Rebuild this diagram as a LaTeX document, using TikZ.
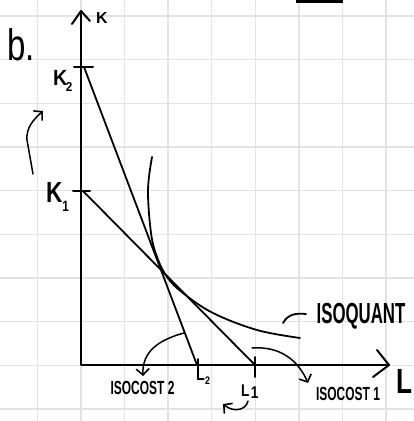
\documentclass[tikz,border=0pt]{standalone}
\usepackage{fontspec}
\setmainfont{Liberation Sans}
\usetikzlibrary{arrows.meta}
\begin{document}
\begin{tikzpicture}[x=1pt,y=-1pt,
  gridline/.style={draw=black!11, line width=1.3pt},
  axis/.style={line width=2pt, line cap=round, line join=round},
  ink/.style={line width=1.8pt, line cap=round},
  pointer/.style={line width=1.5pt, line cap=round, -{Straight Barb[length=6pt,width=13pt,line width=1.6pt]}},
  lbl/.style={inner sep=0pt, outer sep=0pt, anchor=base}
]
\useasboundingbox (0,0) rectangle (414,421);
\fill[white] (0,0) rectangle (414,421);
% grid
\foreach \i in {0,...,8} \draw[gridline] ({37.3+43.6*\i},0) -- ({37.3+43.6*\i},421);
\foreach \j in {0,...,9} \draw[gridline] (0,{16+43.67*\j}) -- (414,{16+43.67*\j});
% top bar
\fill (296,0) rectangle (343,2.5);

% axes
\coordinate (O) at (81,365);
\coordinate (Ktop) at (81,11);
\coordinate (Lend) at (389,365);
\draw[axis] (Ktop) -- (O) -- (Lend);
\draw[axis] (72,24) -- (Ktop) -- (90,21);
\draw[axis] (377,350) -- (Lend) -- (373,377);

% points
\coordinate (K2) at (84,67);
\coordinate (K1) at (83,191);
\coordinate (L2) at (197,365);
\coordinate (L1) at (255,365);

% ticks
\draw[axis] (74,67) -- (93,67);
\draw[axis] (73,191) -- (90,191);
\draw[axis] (198,359) -- (198,371);
\draw[axis] (255,357) -- (255,377);

% isocost lines
\draw[ink] (K2) -- (L2);
\draw[ink] (K1) -- (L1);

% isoquant
\draw[ink] plot[smooth, tension=0.6] coordinates {(152,157) (148,190) (151,233) (157,257) (167,277) (183,293) (213,313) (257,330) (300,338)};

% labels
\node[lbl, font=\fontsize{16}{16}\selectfont\bfseries, anchor=base west] (klab) at (96,23) {K};
\node[lbl, anchor=base west, xscale=0.9] (k2lab) at (53,85) {\fontsize{22}{22}\selectfont\bfseries K\kern-1.5pt\raisebox{-6pt}{\fontsize{13}{13}\selectfont 2}};
\node[lbl, anchor=base west, xscale=0.78] (k1lab) at (46,202) {\fontsize{29}{29}\selectfont\bfseries K\kern0pt\raisebox{-9pt}{\fontsize{15}{15}\selectfont 1}};
\node[lbl, anchor=base west, xscale=0.8] (l2lab) at (196,380) {\fontsize{18}{18}\selectfont\bfseries L\kern0.5pt\raisebox{-4pt}{\fontsize{11}{11}\selectfont 2}};
\node[lbl, anchor=base west, xscale=0.8] (l1lab) at (241,396) {\fontsize{17}{17}\selectfont\bfseries L\kern2pt\raisebox{-2pt}{1}};
\node[lbl, font=\fontsize{19}{19}\selectfont\bfseries, xscale=0.63] (ic2) at (142.5,394) {ISOCOST 2};
\node[lbl, font=\fontsize{19}{19}\selectfont\bfseries, xscale=0.63] (ic1) at (348,400) {ISOCOST 1};
\node[lbl, font=\fontsize{29}{29}\selectfont\bfseries, xscale=0.58] (iq) at (361,323) {ISOQUANT};
\node[lbl, font=\fontsize{35}{35}\selectfont\bfseries, xscale=0.75] (Llab) at (405,393) {L};
\node[lbl, font=\fontsize{44}{44}\selectfont, xscale=0.75] (blab) at (21,60) {b.};

% pointers
\draw[pointer] (184,333) .. controls (158,340) and (142,352) .. (143,376);
\draw[pointer] (252,348) .. controls (280,346) and (298,360) .. (308,383);
\draw[pointer] (248,401) .. controls (246,410) and (234,413) .. (223,404);
\draw[pointer] (33,174) -- (27,140) .. controls (26,128) and (33,120) .. (43,111);
\draw[ink] (283,323) .. controls (288,314) and (296,313) .. (306,314);
\end{tikzpicture}
\end{document}
